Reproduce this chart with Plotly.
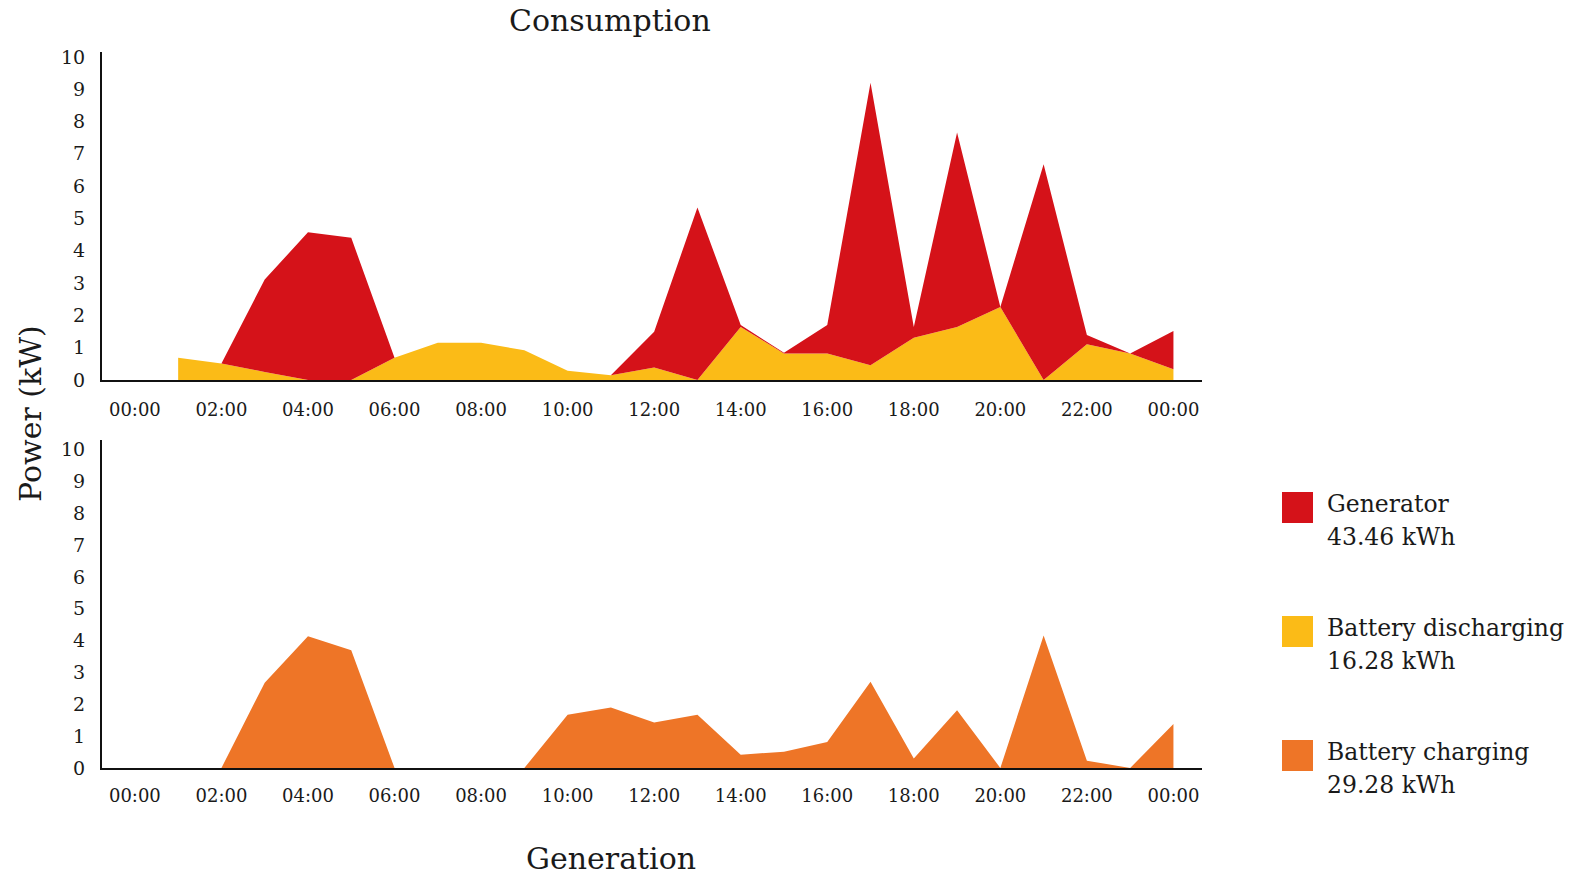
import plotly.graph_objects as go

# ---------------- data ----------------
hours_consumption = list(range(1, 25))
battery_discharging = [0.69, 0.51, 0.25, 0.00, 0.00, 0.69, 1.15, 1.15, 0.92, 0.29, 0.15, 0.39,
                       0.00, 1.64, 0.82, 0.82, 0.46, 1.31, 1.64, 2.26, 0.00, 1.11, 0.82, 0.33]
generator = [0.00, 0.00, 2.86, 4.57, 4.40, 0.00, 0.00, 0.00, 0.00, 0.00, 0.00, 1.10,
             5.34, 0.06, 0.02, 0.88, 8.74, 0.33, 6.02, 0.00, 6.68, 0.28, 0.00, 1.19]

hours_generation = list(range(0, 25))
battery_charging = [0.00, 0.00, 0.00, 2.68, 4.14, 3.70, 0.00, 0.00, 0.00, 0.00, 1.67, 1.90, 1.43,
                    1.67, 0.42, 0.51, 0.82, 2.71, 0.30, 1.81, 0.00, 4.16, 0.23, 0.00, 1.38]

x_tick_vals = list(range(0, 25, 2))
x_tick_text = ["00:00", "02:00", "04:00", "06:00", "08:00", "10:00", "12:00",
               "14:00", "16:00", "18:00", "20:00", "22:00", "00:00"]
y_tick_vals = list(range(0, 11))

series_names = ["Generator", "Battery discharging", "Battery charging"]
series_totals = ["43.46 kWh", "16.28 kWh", "29.28 kWh"]
series_colors = ["#D51219", "#FBBB17", "#EE7527"]

# ---------------- layout geometry ----------------
W, H = 1573, 877
L, R = 102, 1202
TOP_T, TOP_B = 52, 380
BOT_T, BOT_B = 440, 768
PH = BOT_B - TOP_T
PW = R - L


def px_x(x):
    return (x - L) / PW


def px_y(y):
    return (BOT_B - y) / PH


FONT = "DejaVu Serif"
TXT = "#1a1a1a"

fig = go.Figure()

fig.add_trace(go.Scatter(x=hours_consumption, y=battery_discharging, stackgroup="top",
                         mode="lines", line=dict(width=0, color=series_colors[1]),
                         fillcolor=series_colors[1], name=series_names[1],
                         xaxis="x", yaxis="y", showlegend=False))
fig.add_trace(go.Scatter(x=hours_consumption, y=generator, stackgroup="top",
                         mode="lines", line=dict(width=0, color=series_colors[0]),
                         fillcolor=series_colors[0], name=series_names[0],
                         xaxis="x", yaxis="y", showlegend=False))
fig.add_trace(go.Scatter(x=hours_generation, y=battery_charging, fill="tozeroy",
                         mode="lines", line=dict(width=0, color=series_colors[2]),
                         fillcolor=series_colors[2], name=series_names[2],
                         xaxis="x2", yaxis="y2", showlegend=False))

xaxis_common = dict(range=[-0.76, 24.66], tickvals=x_tick_vals, ticktext=x_tick_text,
                    showline=True, linecolor="#111", linewidth=2, showgrid=False,
                    zeroline=False, ticks="outside", tickcolor="rgba(0,0,0,0)",
                    tickfont=dict(family=FONT, size=18, color=TXT), fixedrange=True)
yaxis_common = dict(tickvals=y_tick_vals, showline=True, linecolor="#111", linewidth=2,
                    showgrid=False, zeroline=False, ticks="outside", ticklen=11,
                    tickcolor="rgba(0,0,0,0)",
                    tickfont=dict(family=FONT, size=19, color=TXT), fixedrange=True)

fig.update_layout(
    width=W, height=H,
    margin=dict(l=L, r=W - R, t=TOP_T, b=H - BOT_B),
    paper_bgcolor="white", plot_bgcolor="white",
    showlegend=False,
    xaxis=dict(**xaxis_common, anchor="y", ticklen=12),
    yaxis=dict(**yaxis_common, anchor="x", domain=[px_y(TOP_B), 1], range=[0, 10.15]),
    xaxis2=dict(**xaxis_common, anchor="y2", ticklen=10),
    yaxis2=dict(**yaxis_common, anchor="x2", domain=[0, px_y(BOT_T)], range=[0, 10.3]),
)

annotations = [
    dict(text="Consumption", x=px_x(610), y=px_y(20), xref="paper", yref="paper",
         showarrow=False, xanchor="center", yanchor="middle",
         font=dict(family=FONT, size=30, color=TXT)),
    dict(text="Generation", x=px_x(611), y=px_y(858), xref="paper", yref="paper",
         showarrow=False, xanchor="center", yanchor="middle",
         font=dict(family=FONT, size=30, color=TXT)),
    dict(text="Power (kW)", x=px_x(30), y=px_y(414), xref="paper", yref="paper",
         showarrow=False, xanchor="center", yanchor="middle", textangle=-90,
         font=dict(family=FONT, size=30, color=TXT)),
]

shapes = []
legend_tops = [492, 616, 740]
for name, total, color, top in zip(series_names, series_totals, series_colors, legend_tops):
    shapes.append(dict(type="rect", xref="paper", yref="paper",
                       x0=px_x(1282), x1=px_x(1313), y0=px_y(top + 31), y1=px_y(top),
                       fillcolor=color, line=dict(width=0)))
    annotations.append(dict(text=name, x=px_x(1325), y=px_y(top + 12), xref="paper",
                            yref="paper", showarrow=False, xanchor="left", yanchor="middle",
                            font=dict(family=FONT, size=23.5, color=TXT)))
    annotations.append(dict(text=total, x=px_x(1325), y=px_y(top + 45), xref="paper",
                            yref="paper", showarrow=False, xanchor="left", yanchor="middle",
                            font=dict(family=FONT, size=23.5, color=TXT)))

fig.update_layout(annotations=annotations, shapes=shapes)

fig.write_html("out.html", config={"displayModeBar": False},
               post_script="document.body.style.margin='0px';")
